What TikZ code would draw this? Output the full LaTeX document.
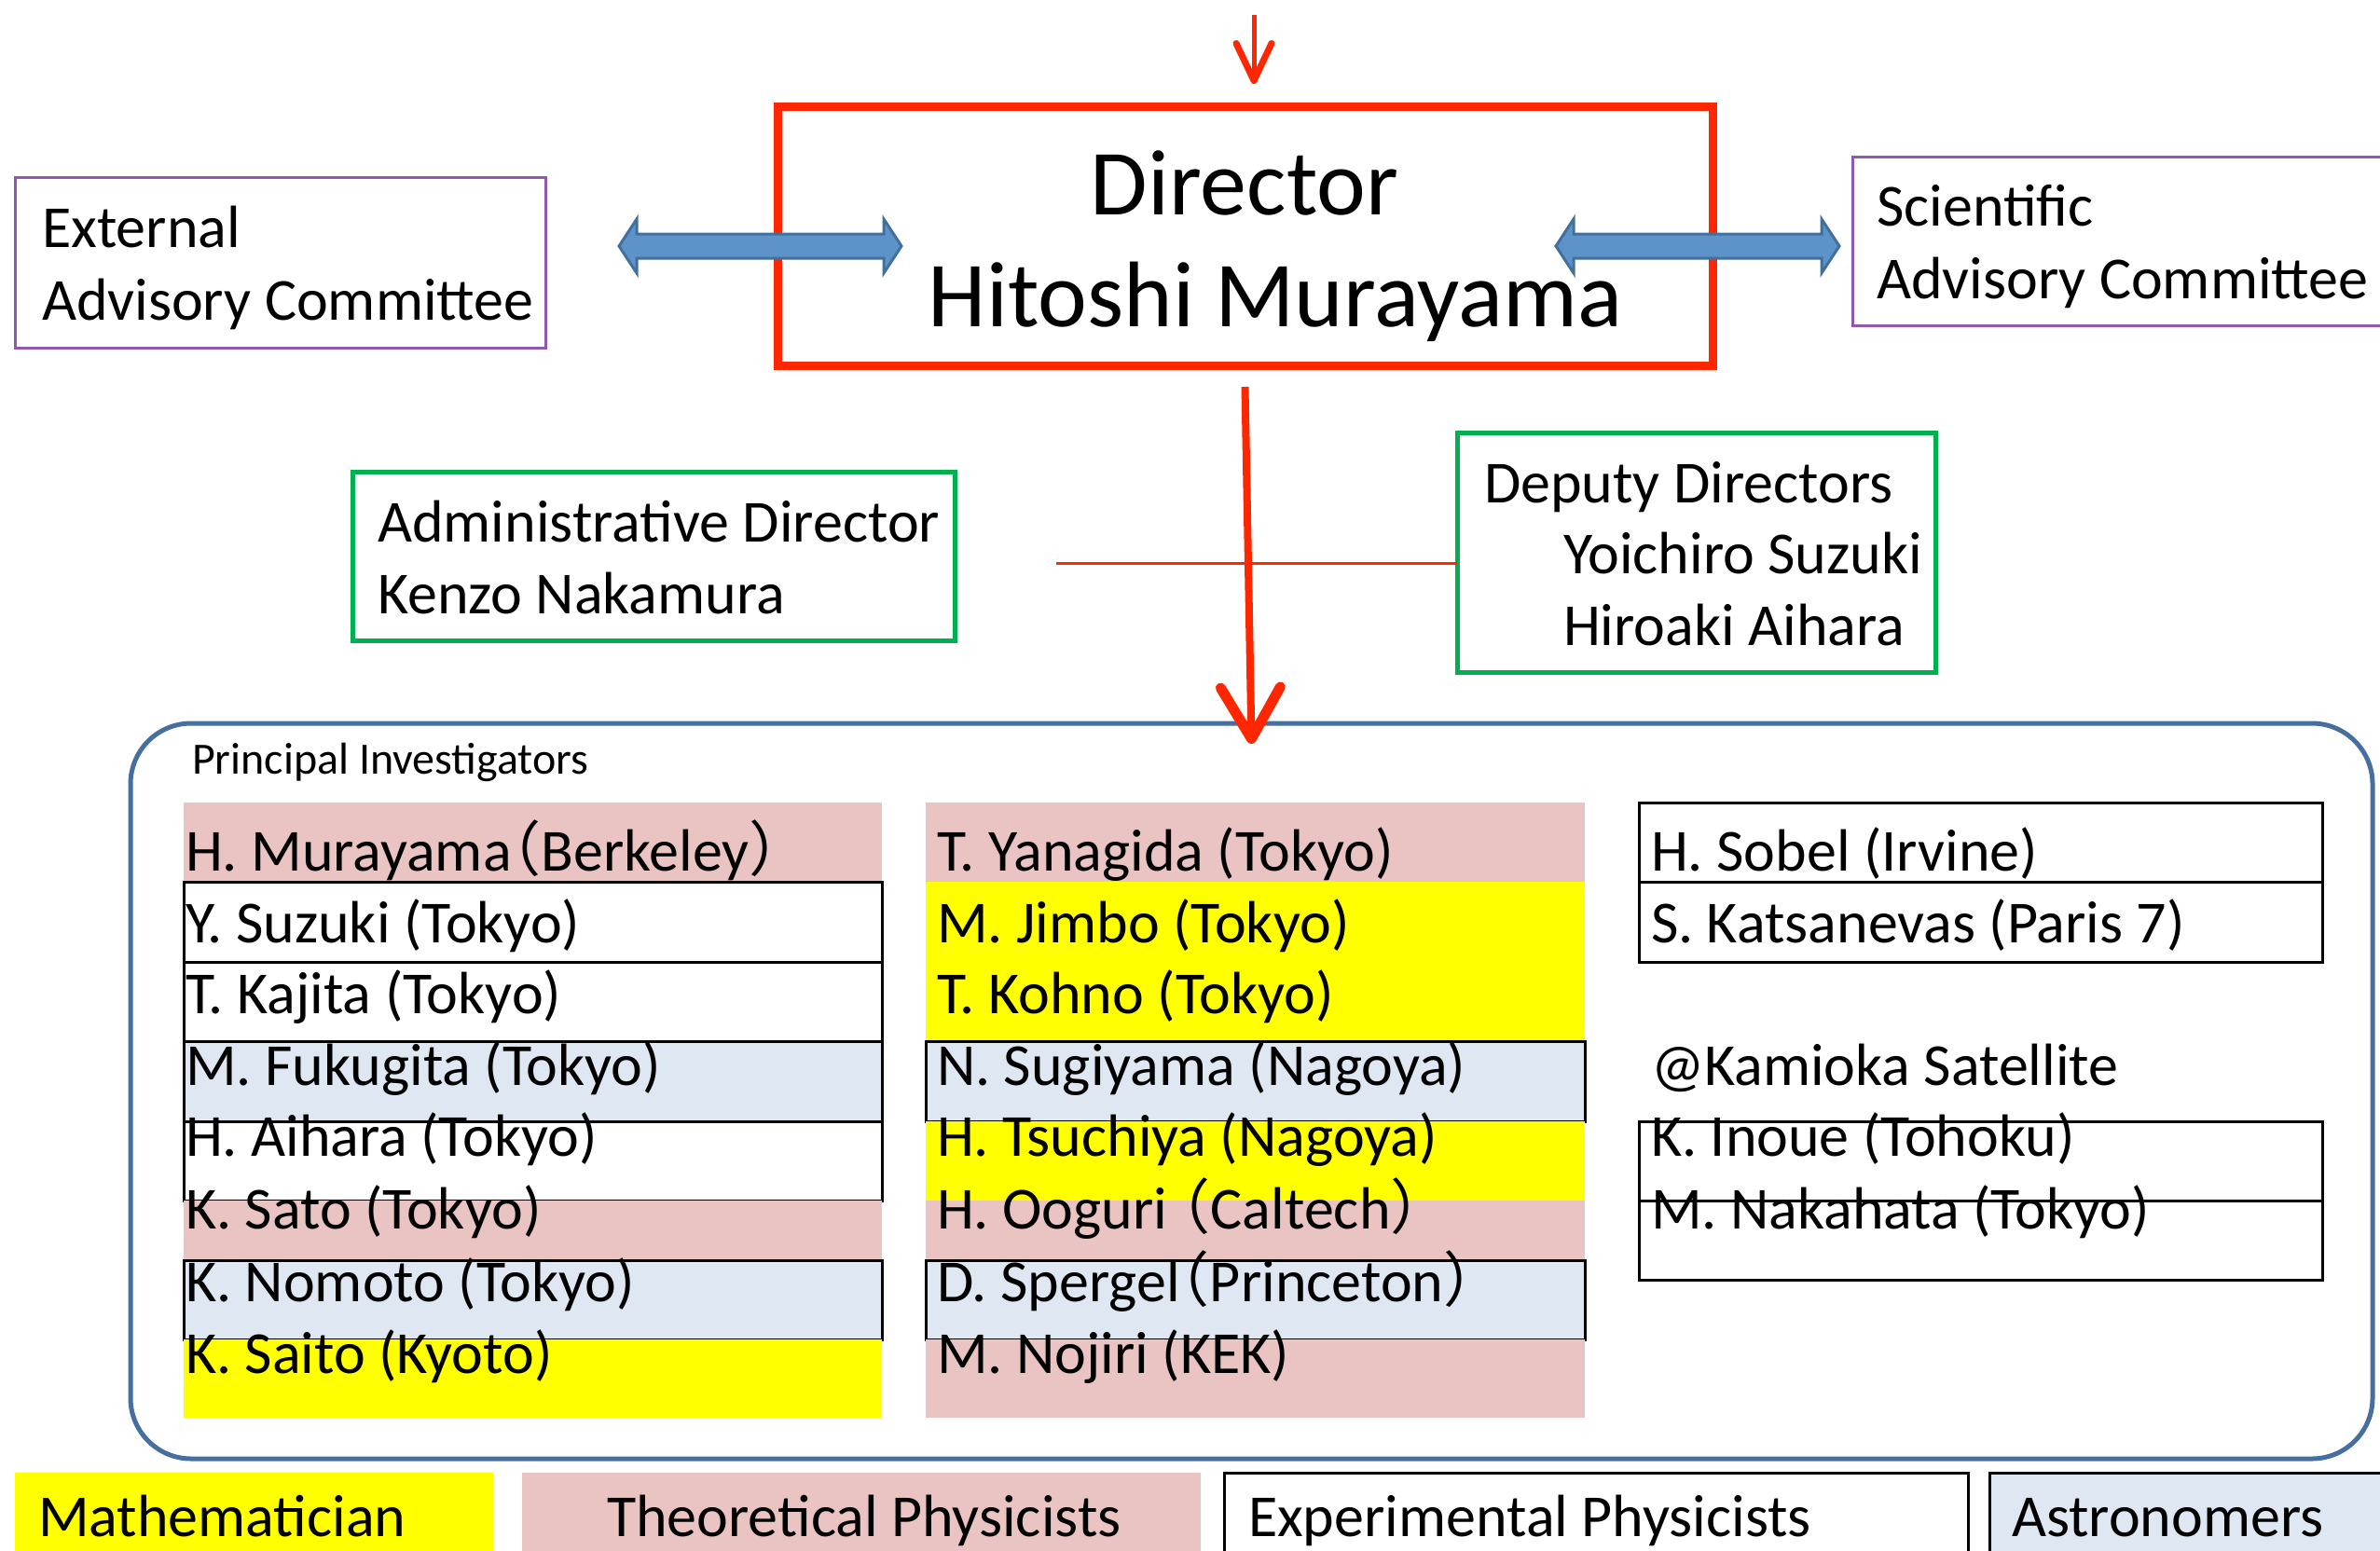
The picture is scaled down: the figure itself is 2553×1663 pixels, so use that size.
\documentclass[tikz,border=0pt]{standalone}
\usepackage{fontspec}
\setmainfont{Carlito}
\newfontfamily\cjkparen[RawFeature=+halt]{Noto Sans CJK JP}
\usetikzlibrary{arrows.meta,positioning}

\definecolor{orgred}{RGB}{255,38,0}
\definecolor{advpurple}{RGB}{143,89,178}
\definecolor{depgreen}{RGB}{0,176,80}
\definecolor{piframe}{RGB}{70,111,160}
\definecolor{linkfill}{RGB}{94,147,201}
\definecolor{linkdraw}{RGB}{66,112,158}
\definecolor{theo}{RGB}{234,196,195}
\definecolor{astro}{RGB}{222,231,242}
\definecolor{mathyellow}{RGB}{255,255,0}

% full-width brackets as in the original slide
\newcommand{\fwlp}{{\cjkparen （}}
\newcommand{\fwrp}{{\cjkparen ）}}

\tikzset{
  every node/.style={inner sep=0pt, outer sep=0pt},
  txt/.style={anchor=base west, font=\fontsize{64}{64}\selectfont},
  dirtxt/.style={anchor=base, font=\fontsize{100}{100}\selectfont},
  pitxt/.style={anchor=base west, font=\fontsize{48}{48}\selectfont},
  advbox/.style={draw=advpurple, line width=3pt},
  dirbox/.style={draw=orgred, line width=9pt},
  grnbox/.style={draw=depgreen, line width=5pt},
  pibox/.style={draw=piframe, line width=5pt, rounded corners=65pt},
  cellbox/.style={draw=black, line width=3pt},
  linkarrow/.style={fill=linkfill, draw=linkdraw, line width=3pt},
  feedline/.style={orgred, line width=5pt, -{Straight Barb[length=40pt,width=38pt,line width=7pt,round]}},
  mainline/.style={orgred, line width=8pt, -{Straight Barb[length=55pt,width=64pt,line width=11pt,round]}},
  linkline/.style={orgred, line width=3pt}
}

\begin{document}
\begin{tikzpicture}[x=1pt, y=-1pt]
    \useasboundingbox (0,0) rectangle (2553,1663);

    % boxes of the top part
    \node[advbox, minimum width=569pt, minimum height=183pt] (ext) at (300.5,281.5) {};
    \node[advbox, minimum width=633pt, minimum height=181pt] (sci) at (2303.5,258.5) {};
    \node[dirbox, minimum width=1003pt, minimum height=278pt] (dir) at (1335.5,253) {};
    \node[grnbox, minimum width=646pt, minimum height=181pt] (adm) at (701,596.5) {};
    \node[grnbox, minimum width=513pt, minimum height=257pt] (dep) at (1819.5,592.5) {};
    \node[pibox, minimum width=2405pt, minimum height=789pt] (pi) at (1342.5,1170.5) {};

    \node[txt] (ext1) at (45,265) {External};
    \node[txt] (ext2) at (45,343) {Advisory Committee};
    \node[txt] (sci1) at (2013,242) {Scientific};
    \node[txt] (sci2) at (2013,320) {Advisory Committee};
    \node[dirtxt] (dir1) at (1335,230) {Director};
    \node[dirtxt] (dir2) at (1368,350) {Hitoshi Murayama};
    \node[txt] (adm1) at (405,581) {Administrative Director};
    \node[txt] (adm2) at (405,658) {Kenzo Nakamura};
    \node[txt] (dep1) at (1592,539) {Deputy Directors};
    \node[txt] (dep2) at (1677,615) {Yoichiro Suzuki};
    \node[txt] (dep3) at (1677,692) {Hiroaki Aihara};

    % two-way links to the committees
    \draw[linkarrow] (664,264) -- (683,235) -- (683,251) -- (948,251) -- (948,235) -- (967,264)
        -- (948,293) -- (948,277) -- (683,277) -- (683,293) -- cycle;
    \draw[linkarrow] (1669,264) -- (1688,235) -- (1688,251) -- (1954,251) -- (1954,235) -- (1973,264)
        -- (1954,293) -- (1954,277) -- (1688,277) -- (1688,293) -- cycle;

    \coordinate (fromabove) at (1345,16);
    \coordinate (admlink) at (1133,604);
    \draw[feedline] (fromabove) -- ([xshift=9.5pt,yshift=24pt]dir.north);
    \draw[linkline] (admlink) -- (admlink -| dep.west);

    % principal investigators, first column
    \fill[theo] (197,861) rectangle (946,946);
    \draw[cellbox] (197,946) rectangle (946,1032);
    \draw[cellbox] (197,1032) rectangle (946,1117);
    \draw[cellbox, fill=astro] (197,1117) rectangle (946,1203);
    \draw[cellbox] (197,1203) rectangle (946,1288);
    \fill[theo] (197,1288) rectangle (946,1352);
    \draw[cellbox, fill=astro] (197,1352) rectangle (946,1437);
    \fill[mathyellow] (197,1437) rectangle (946,1521);

    % second column
    \fill[theo] (993,861) rectangle (1700,946);
    \fill[mathyellow] (993,946) rectangle (1700,1117);
    \draw[cellbox, fill=astro] (993,1117) rectangle (1700,1203);
    \fill[mathyellow] (993,1203) rectangle (1700,1288);
    \fill[theo] (993,1288) rectangle (1700,1352);
    \draw[cellbox, fill=astro] (993,1352) rectangle (1700,1437);
    \fill[theo] (993,1437) rectangle (1700,1521);

    % third column
    \draw[cellbox] (1758,861) rectangle (2491,946);
    \draw[cellbox] (1758,946) rectangle (2491,1032);
    \draw[cellbox] (1758,1203) rectangle (2491,1288);
    \draw[cellbox] (1758,1288) rectangle (2491,1373);

    \node[pitxt] (pilabel) at (206,830) {Principal Investigators};

    \node[txt] (murayama) at (199,934) {H. Murayama\fwlp Berkeley\fwrp};
    \node[txt] (suzuki) at (199,1011) {Y. Suzuki (Tokyo)};
    \node[txt] (kajita) at (199,1087) {T. Kajita (Tokyo)};
    \node[txt] (fukugita) at (199,1164) {M. Fukugita (Tokyo)};
    \node[txt] (aihara) at (199,1240) {H. Aihara (Tokyo)};
    \node[txt] (sato) at (199,1318) {K. Sato (Tokyo)};
    \node[txt] (nomoto) at (199,1396) {K. Nomoto (Tokyo)};
    \node[txt] (saito) at (199,1473) {K. Saito (Kyoto)};

    \node[txt] (yanagida) at (1005,934) {T. Yanagida (Tokyo)};
    \node[txt] (jimbo) at (1005,1011) {M. Jimbo (Tokyo)};
    \node[txt] (kohno) at (1005,1087) {T. Kohno (Tokyo)};
    \node[txt] (sugiyama) at (1005,1164) {N. Sugiyama (Nagoya)};
    \node[txt] (tsuchiya) at (1005,1240) {H. Tsuchiya (Nagoya)};
    \node[txt] (ooguri) at (1005,1318) {H. Ooguri \fwlp Caltech\fwrp};
    \node[txt] (spergel) at (1005,1396) {D. Spergel\fwlp Princeton\fwrp};
    \node[txt] (nojiri) at (1005,1473) {M. Nojiri (KEK)};

    \node[txt] (sobel) at (1771,934) {H. Sobel (Irvine)};
    \node[txt] (katsanevas) at (1771,1011) {S. Katsanevas (Paris 7)};
    \node[txt] (kamioka) at (1771,1164) {@Kamioka Satellite};
    \node[txt] (inoue) at (1771,1240) {K. Inoue (Tohoku)};
    \node[txt] (nakahata) at (1771,1318) {M. Nakahata (Tokyo)};

    \draw[mainline] ([yshift=-23pt]dir.south) -- ([yshift=-22pt]pi.north);

    % key
    \fill[mathyellow] (16,1580) rectangle (529,1680);
    \fill[theo] (560,1580) rectangle (1288,1680);
    \draw[cellbox] (1313,1680) -- (1313,1580) -- (2111,1580) -- (2111,1680);
    \fill[astro] (2134,1580) rectangle (2600,1680);
    \draw[cellbox] (2134,1680) -- (2134,1580) -- (2600,1580);
    \node[txt] (keymath) at (41,1648) {Mathematician};
    \node[txt] (keytheo) at (651,1648) {Theoretical Physicists};
    \node[txt] (keyexp) at (1339,1648) {Experimental Physicists};
    \node[txt] (keyastro) at (2158,1648) {Astronomers};
\end{tikzpicture}
\end{document}
